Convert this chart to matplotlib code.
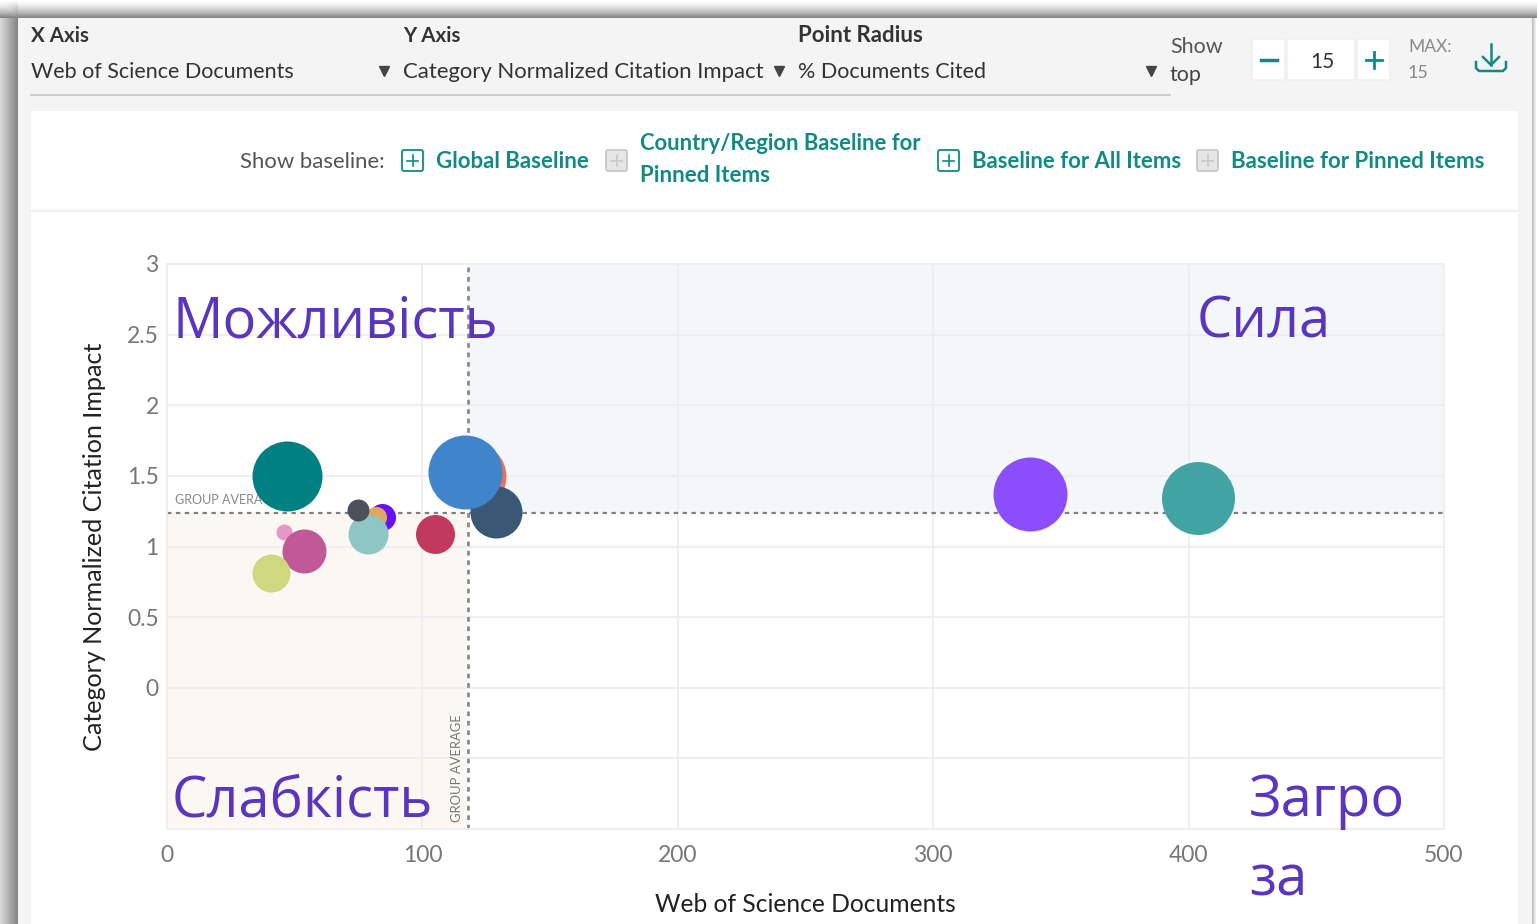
"""Citation impact bubble chart with the toolbar around it
"""

import numpy as np
import matplotlib
matplotlib.use('Agg')
import matplotlib.pyplot as plt
from matplotlib.patches import Rectangle, FancyBboxPatch

W, H = 1537, 924
UI_FONT = 'Lato'
WORD_FONT = 'Open Sans'

documents = [47, 116.8, 120, 128.8, 337.8, 403.6, 104.8, 78.7, 84, 82, 74.7, 46, 53.7, 40.7]
impact = [1.50, 1.53, 1.50, 1.245, 1.37, 1.34, 1.085, 1.09, 1.21, 1.21, 1.26, 1.10, 0.97, 0.81]
radius_cited = [35, 37, 33, 26, 37, 36.5, 19.5, 20, 13.5, 10.5, 11, 8, 22, 19]
colors = ['#008080', '#4085cb', '#ea7058', '#3a5876', '#8c4dfb', '#42a3a3', '#c13a5e', '#8ec5c5',
          '#6a10f5', '#e2a85a', '#4d515c', '#e696c8', '#c05a96', '#cfd87e']
# draw order, the later ones on top
order = [2, 3, 1, 0, 4, 5, 8, 9, 7, 10, 6, 11, 12, 13]

x_ticks = [0, 100, 200, 300, 400, 500]
y_ticks = [3, 2.5, 2, 1.5, 1, 0.5, 0, -0.5, -1]
y_tick_labels = ['3', '2.5', '2', '1.5', '1', '0.5', '0', '', '']
x_average = 118
y_average = 1.24

fig = plt.figure(figsize=(W / 100, H / 100), dpi=100)
bg = fig.add_axes([0, 0, 1, 1], zorder=0)
bg.set_xlim(0, W)
bg.set_ylim(H, 0)
bg.axis('off')

# window shadow
shade_x = np.ones(W)
shade_x[:18] = np.linspace(0.85, 0.52, 18)
shade_x[1532:] = np.linspace(0.75, 1.0, 5)
shade_y = np.ones(H)
shade_y[:18] = 1 - 0.48 * np.linspace(0, 1, 18) ** 1.5
fade = np.ones(H)
fade[:18] = np.linspace(0, 1, 18)
shade = np.minimum(shade_y[:, None], 1 - np.outer(fade, 1 - shade_x))
bg.imshow(shade, cmap='gray', vmin=0, vmax=1, extent=[0, W, H, 0], aspect='auto', zorder=0)
bg.set_xlim(0, W)
bg.set_ylim(H, 0)

bg.add_patch(Rectangle((18, 18), 1514, 906, color='#f4f4f4', lw=0, zorder=1))
bg.add_patch(Rectangle((31, 111), 1487, 813, color='white', lw=0, zorder=2))
bg.plot([31, 1518], [210.5, 210.5], color='#f0f0f0', lw=1.5, zorder=3)
bg.plot([31, 1170], [94.5, 94.5], color='#c4c4c8', lw=1.2, zorder=3)


def label(x, y, s, size=15.5, color='#333333', weight='normal', ha='left', **kw):
    bg.text(x, y, s, fontsize=size, color=color, fontweight=weight, ha=ha, va='center',
            family=UI_FONT, zorder=5, **kw)


def plus_box(x, y, active):
    edge = '#0f8a87' if active else '#c8c8c8'
    face = 'white' if active else '#e6e6e6'
    bg.add_patch(FancyBboxPatch((x, y), 21, 21, boxstyle='round,pad=0,rounding_size=2',
                                fc=face, ec=edge, lw=1.3, zorder=4))
    bg.plot([x + 5, x + 16], [y + 10.5, y + 10.5], color=edge, lw=1.2, zorder=5)
    bg.plot([x + 10.5, x + 10.5], [y + 5, y + 16], color=edge, lw=1.2, zorder=5)


# selectors
label(31, 36, 'X Axis', weight='bold', size=14.8)
label(31, 72, 'Web of Science Documents')
label(403, 36, 'Y Axis', weight='bold', size=14.8)
label(403, 72, 'Category Normalized Citation Impact', size=15.9)
label(798, 36, 'Point Radius', weight='bold', size=16)
label(798, 72, '% Documents Cited')
bg.plot([384, 779, 1151], [71, 71, 71], 'v', color='#444444', ms=7, zorder=5)

label(1170, 47, 'Show', color='#555555')
label(1170, 75, 'top', color='#444444')
for bx, bw in [(1252, 33), (1287, 68), (1357, 33)]:
    bg.add_patch(FancyBboxPatch((bx, 39), bw, 41, boxstyle='round,pad=0,rounding_size=2',
                                fc='white', ec='#eeeeee', lw=1, zorder=4))
bg.plot([1261, 1277], [60, 60], color='#0f8a87', lw=2.5, zorder=5)
bg.plot([1366, 1382], [60, 60], color='#0f8a87', lw=2, zorder=5)
bg.plot([1374, 1374], [52, 68], color='#0f8a87', lw=2, zorder=5)
label(1322, 62, '15', ha='center', size=15)
label(1408, 47, 'MAX:', size=12.5, color='#888888')
label(1408, 73, '15', size=13, color='#888888')

# download icon
bg.plot([1491, 1491], [44, 65], color='#0f8a87', lw=1.8, zorder=5)
bg.plot([1483, 1491, 1499], [57, 65, 57], color='#0f8a87', lw=1.8, zorder=5)
bg.plot([1476, 1476, 1479, 1503, 1506, 1506], [62, 68, 71, 71, 68, 62], color='#0f8a87', lw=1.8, zorder=5)

# baseline row
teal = '#0f8a87'
label(240, 162, 'Show baseline:', color='#555555', size=15.9)
plus_box(402, 150, True)
label(436, 161, 'Global Baseline', color=teal, weight='bold', size=16)
plus_box(606, 150, False)
label(640, 143, 'Country/Region Baseline for', color=teal, weight='bold', size=15.8)
label(640, 176, 'Pinned Items', color=teal, weight='bold', size=16)
plus_box(938, 150, True)
label(972, 161, 'Baseline for All Items', color=teal, weight='bold', size=15.9)
plus_box(1197, 150, False)
label(1231, 161, 'Baseline for Pinned Items', color=teal, weight='bold', size=16)

# chart, placed by its pixel box
left, right, top, bottom = 167, 1444, 264, 829
ax = fig.add_axes([left / W, 1 - bottom / H, (right - left) / W, (bottom - top) / H], zorder=1)
ax.patch.set_alpha(0)
ax.set_xlim(0, 500)
ax.set_ylim(-1, 3)
ax.set_xticks(x_ticks)
ax.set_yticks(y_ticks)
ax.set_yticklabels(y_tick_labels)
ax.grid(True, color='#eeeeee', lw=1.3, zorder=1)
ax.set_axisbelow(True)
ax.tick_params(length=0, labelsize=16.5, labelcolor='#777777')
ax.tick_params(axis='x', pad=11.5)
ax.tick_params(axis='y', pad=6)
for tick in ax.get_xticklabels() + ax.get_yticklabels():
    tick.set_family(UI_FONT)
for spine in ax.spines.values():
    spine.set_color('#eeeeee')
    spine.set_linewidth(1.3)

ax.axvspan(x_average, 500, ymin=(y_average + 1) / 4, color='#f4f7fa', lw=0, zorder=0)
ax.axvspan(0, x_average, ymax=(y_average + 1) / 4, color='#fbf8f4', lw=0, zorder=0)
ax.axvline(x_average, color='#8a8a8a', lw=2, ls=(0, (1.7, 1.7)), zorder=2)
ax.axhline(y_average, color='#808080', lw=1.6, ls=(0, (2, 2)), zorder=2)
ax.text(3, 1.33, 'GROUP AVERAGE', fontsize=9, color='#888888', family=UI_FONT, va='center', zorder=2)
ax.text(113.5, -0.57, 'GROUP AVERAGE', fontsize=9.4, color='#777777', family=UI_FONT, rotation=90,
        ha='center', va='center', zorder=2)

for i in order:
    ax.scatter(documents[i], impact[i], s=(2 * radius_cited[i] * 0.72) ** 2, color=colors[i],
               linewidths=0, zorder=3, clip_on=False)

bg.text(805, 904, 'Web of Science Documents', fontsize=17.7, color='#222222', family=UI_FONT,
        ha='center', va='center', zorder=5)
bg.text(95, 547, 'Category Normalized Citation Impact', fontsize=18.1, color='#222222', family=UI_FONT,
        rotation=90, ha='center', va='center', zorder=5)

# the words typed over the screenshot
violet = '#5a35c0'
for wx, wy, word in [(172, 323, 'Можливість'), (1197, 323, 'Сила'), (172, 802, 'Слабкість'),
                     (1249, 802, 'Загро'), (1249, 881, 'за')]:
    fig.text(wx / W, 1 - wy / H, word, fontsize=40.4, color=violet, family=WORD_FONT, ha='left',
             va='center', zorder=6)

fig.savefig('out.png', dpi=100)
